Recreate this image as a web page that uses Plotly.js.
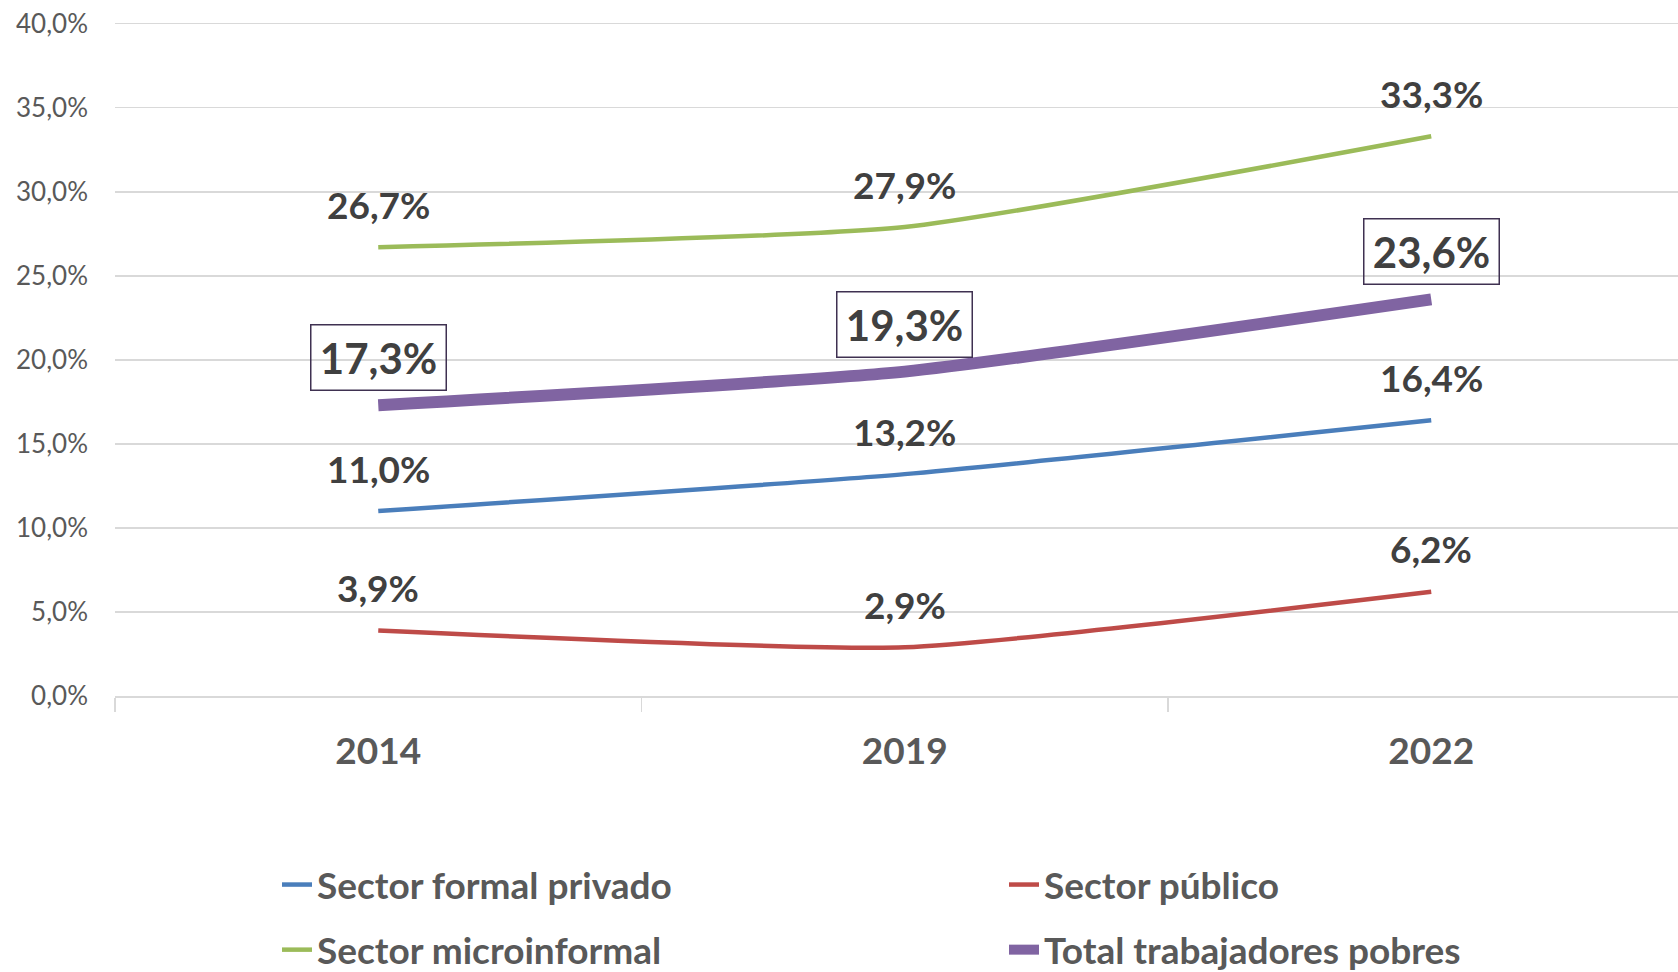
<!DOCTYPE html>
<html>
<head>
<meta charset="utf-8">
<script src="https://cdn.plot.ly/plotly-3.0.1.min.js"></script>
<style>
  html, body { margin: 0; padding: 0; background: #ffffff; }
  #chart { width: 1678px; height: 972px; }
</style>
</head>
<body>
<div id="chart"></div>
<script>
// ---- data ----
const categories = ['2014', '2019', '2022'];
const seriesNames = ['Sector formal privado', 'Sector público', 'Sector microinformal', 'Total trabajadores pobres'];
const formalPrivado = [11.0, 13.2, 16.4];
const sectorPublico = [3.9, 2.9, 6.2];
const microinformal = [26.7, 27.9, 33.3];
const totalPobres = [17.3, 19.3, 23.6];
const yTickVals = [0, 5, 10, 15, 20, 25, 30, 35, 40];

// ---- styling ----
const FONT = 'Lato, "Open Sans", sans-serif';
const colors = { formal: '#4A7EBB', publico: '#BE4B48', micro: '#9BBB59', total: '#8064A2' };

function fmt(v) { return v.toFixed(1).replace('.', ',') + '%'; }
const yTickText = yTickVals.map(fmt);

function lineTrace(name, y, color, width, legend) {
  return {
    type: 'scatter', mode: 'lines', name: name, x: categories, y: y,
    line: { color: color, width: width, shape: 'spline', smoothing: 0.5 },
    legend: legend, legendgroup: name, hoverinfo: 'skip'
  };
}

const data = [
  lineTrace(seriesNames[0], formalPrivado, colors.formal, 4.5, 'legend'),
  lineTrace(seriesNames[1], sectorPublico, colors.publico, 4.5, 'legend2'),
  lineTrace(seriesNames[2], microinformal, colors.micro, 4.5, 'legend'),
  lineTrace(seriesNames[3], totalPobres, colors.total, 12, 'legend2')
];

// data labels: on a category axis, annotation x is the category's serial index
const annotations = [];
function addLabels(vals, boxed) {
  vals.forEach(function (v, i) {
    const a = {
      x: categories.indexOf(categories[i]), y: v, xref: 'x', yref: 'y', text: fmt(v), showarrow: false,
      font: { family: FONT, size: boxed ? 42 : 37, color: '#404040', weight: 'bold' },
      yshift: boxed ? 47.5 : 43
    };
    if (boxed) {
      a.bordercolor = '#3F3151';
      a.borderwidth = 1.5;
      a.borderpad = 8;
      a.width = 118;
      a.height = 48;
    }
    annotations.push(a);
  });
}
addLabels(formalPrivado, false);
addLabels(sectorPublico, false);
addLabels(microinformal, false);
addLabels(totalPobres, true);

// plot area geometry (pixels) used to place legends in paper coords
const L = 115, T = 22, W = 1563, H = 674;
function px2x(px) { return (px - L) / W; }
function py2y(py) { return (T + H - py) / H; }

const legendCommon = {
  font: { family: FONT, size: 37, color: '#595959', weight: 'bold' },
  bgcolor: 'rgba(255,255,255,0)', borderwidth: 0,
  orientation: 'v', tracegroupgap: 14,
  xref: 'paper', yref: 'paper', xanchor: 'left', yanchor: 'top',
  itemclick: false, itemdoubleclick: false
};

const layout = {
  width: 1678, height: 972,
  paper_bgcolor: '#ffffff', plot_bgcolor: '#ffffff',
  margin: { l: L, r: 0, t: T, b: 972 - T - H, autoexpand: false },
  showlegend: true,
  font: { family: FONT },
  xaxis: {
    type: 'category', range: [-0.5, 2.4687],
    tickson: 'boundaries', ticks: 'outside', ticklen: 14, tickwidth: 1.5, tickcolor: '#D9D9D9',
    showline: true, linecolor: '#D9D9D9', linewidth: 1.5,
    showgrid: false, zeroline: false, fixedrange: true,
    tickfont: { family: FONT, size: 37, color: '#595959', weight: 'bold' },
    ticklabelstandoff: 22
  },
  yaxis: {
    range: [0, 40.1], tickmode: 'array', tickvals: yTickVals, ticktext: yTickText,
    showgrid: true, gridcolor: '#D9D9D9', gridwidth: 1.5,
    zeroline: false, showline: false, ticks: '', fixedrange: true,
    tickfont: { family: FONT, size: 26, color: '#595959' },
    ticklabelstandoff: 26
  },
  legend: Object.assign({}, legendCommon, { x: px2x(277), y: py2y(854) }),
  legend2: Object.assign({}, legendCommon, { x: px2x(1004), y: py2y(854) }),
  annotations: annotations
};

Plotly.newPlot('chart', data, layout, { displayModeBar: false, staticPlot: true });
</script>
</body>
</html>
